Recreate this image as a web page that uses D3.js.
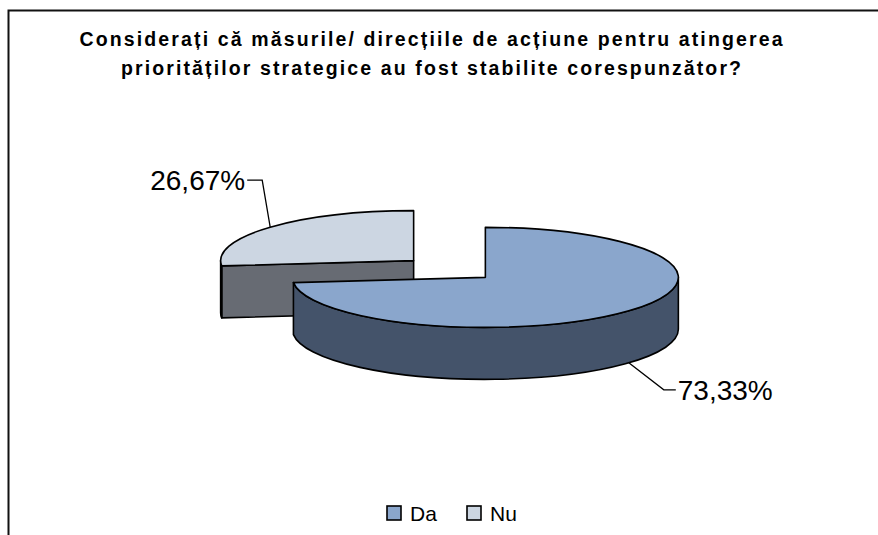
<!DOCTYPE html>
<html>
<head>
<meta charset="utf-8">
<script src="https://cdn.jsdelivr.net/npm/d3@7"></script>
<style>
  body { margin: 0; background: #fff; }
  svg { display: block; font-family: "Liberation Sans", Arial, sans-serif; }
</style>
</head>
<body>
<div id="chart"></div>
<script>
// data
const categories = ["Da", "Nu"];
const values = [73.33, 26.67];
const labels = ["73,33%", "26,67%"];
const titleLines = [
  "Considerați că măsurile/ direcțiile de acțiune pentru atingerea",
  "priorităților strategice au fost stabilite corespunzător?"
];

const width = 878, height = 535;
const topColors = ["#8aa6cc", "#ccd6e2"];
const sideColors = ["#44536a", "#676b73"];

// pie geometry (ellipse projected)
const cx = 449.5, cy = 269, rx = 193, ry = 50, depth = 52, explode = 0.25;

const svg = d3.select("#chart").append("svg")
  .attr("width", width)
  .attr("height", height);

svg.append("rect").attr("width", width).attr("height", height).attr("fill", "#fff");

// frame (runs past right and bottom edges)
svg.append("rect")
  .attr("x", 8.5).attr("y", 10.5)
  .attr("width", width + 20).attr("height", height + 20)
  .attr("fill", "none").attr("stroke", "#111").attr("stroke-width", 2);

// title - widths stretched like the original
const titleWidths = [703, 620];
svg.append("g").selectAll("text")
  .data(titleLines)
  .enter().append("text")
  .attr("x", 431)
  .attr("y", (d, i) => 46 + i * 29)
  .attr("text-anchor", "middle")
  .attr("textLength", (d, i) => titleWidths[i])
  .attr("lengthAdjust", "spacing")
  .style("font-weight", "bold")
  .style("font-size", "19.5px")
  .style("fill", "#000")
  .text(d => d);

const pie = d3.pie().sort(null).value(d => d);
const arcs = pie(values);

// slice centre after explosion along the bisector
const centerOf = a => {
  const m = (a.startAngle + a.endAngle) / 2;
  return [cx + explode * rx * Math.sin(m), cy - explode * ry * Math.cos(m)];
};
const pt = (c, t, dz = 0) => [c[0] + rx * Math.sin(t), c[1] - ry * Math.cos(t) + dz];

const topPath = (c, a0, a1) => {
  const p0 = pt(c, a0), p1 = pt(c, a1);
  const large = a1 - a0 > Math.PI ? 1 : 0;
  return `M${c[0]},${c[1]}L${p0[0]},${p0[1]}A${rx},${ry} 0 ${large} 1 ${p1[0]},${p1[1]}Z`;
};
const sidePath = (c, a0, a1) => {
  const p0 = pt(c, a0), p1 = pt(c, a1), q1 = pt(c, a1, depth), q0 = pt(c, a0, depth);
  const large = a1 - a0 > Math.PI ? 1 : 0;
  return `M${p0[0]},${p0[1]}A${rx},${ry} 0 ${large} 1 ${p1[0]},${p1[1]}` +
    `L${q1[0]},${q1[1]}A${rx},${ry} 0 ${large} 0 ${q0[0]},${q0[1]}Z`;
};
const wallPath = (c, t) => {
  const p = pt(c, t), q = pt(c, t, depth);
  return `M${c[0]},${c[1]}L${p[0]},${p[1]}L${q[0]},${q[1]}L${c[0]},${c[1] + depth}Z`;
};

const g = svg.append("g")
  .attr("stroke", "#000")
  .attr("stroke-width", 1.6)
  .attr("stroke-linejoin", "round");

// back slice first, front slice last
const order = [1, 0];
order.forEach(i => {
  const a = arcs[i];
  const c = centerOf(a);
  const s = g.append("g");
  const st = a.startAngle, en = a.endAngle;
  // radial walls that face the viewer
  if (Math.sin(st) < 0 && st > Math.PI) {
    s.append("path").attr("d", wallPath(c, st)).attr("fill", sideColors[i]);
  }
  if (Math.sin(en) > 0 && en < Math.PI) {
    s.append("path").attr("d", wallPath(c, en)).attr("fill", sideColors[i]);
  }
  // outer side visible for angles in [pi/2, 3pi/2]
  const s0 = Math.max(st, Math.PI / 2), s1 = Math.min(en, 3 * Math.PI / 2);
  if (s1 > s0) {
    s.append("path").attr("d", sidePath(c, s0, s1)).attr("fill", sideColors[i]);
  }
  s.append("path").attr("d", topPath(c, st, en)).attr("fill", topColors[i]);
});

// data labels with leader lines
const labelOffsets = [
  { dx: 35, dy: 27, hx: 12, onSide: true },
  { dx: -8, dy: -47, hx: -15, onSide: false }
];
arcs.forEach((a, i) => {
  const c = centerOf(a);
  const m = (a.startAngle + a.endAngle) / 2;
  const o = labelOffsets[i];
  const p = pt(c, m, o.onSide ? depth : 0);
  const bend = [p[0] + o.dx, p[1] + o.dy];
  const end = [bend[0] + o.hx, bend[1]];
  svg.append("path")
    .attr("d", d3.line()([p, bend, end]))
    .attr("fill", "none").attr("stroke", "#000").attr("stroke-width", 1.3);
  svg.append("text")
    .attr("x", end[0] + (o.hx > 0 ? 2 : -2))
    .attr("y", end[1])
    .attr("dy", "0.36em")
    .attr("text-anchor", o.hx > 0 ? "start" : "end")
    .style("font-size", "28px")
    .style("fill", "#000")
    .text(labels[i]);
});

// legend
const legend = svg.append("g").attr("transform", "translate(387,506)");
const item = legend.selectAll("g")
  .data(categories)
  .enter().append("g")
  .attr("transform", (d, i) => `translate(${i * 80},0)`);
item.append("rect")
  .attr("width", 14).attr("height", 14)
  .attr("fill", (d, i) => topColors[i])
  .attr("stroke", "#000").attr("stroke-width", 1.6);
item.append("text")
  .attr("x", 23).attr("y", 15)
  .style("font-size", "21px")
  .style("fill", "#000")
  .text(d => d);
</script>
</body>
</html>
